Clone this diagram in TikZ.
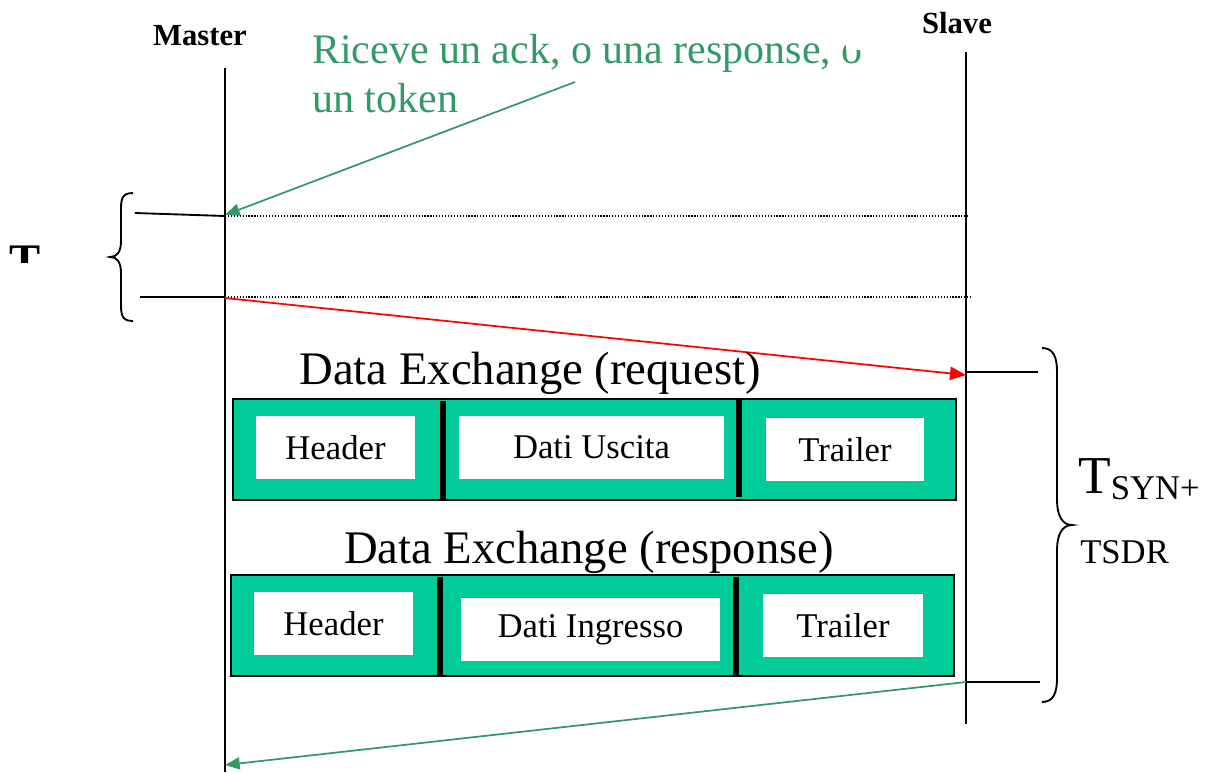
\documentclass[tikz,border=0pt]{standalone}
\usepackage{fontspec}
\setmainfont{Liberation Serif}
\usetikzlibrary{arrows.meta}
\definecolor{notegreen}{RGB}{51,153,102}
\definecolor{frameteal}{RGB}{0,204,153}
\begin{document}
\begin{tikzpicture}[x=0.75pt,y=-0.75pt,
  lifeline/.style={line width=1.4pt},
  tick/.style={line width=1.4pt},
  guide/.style={line width=0.9pt, dash pattern=on 0.9pt off 1.3pt},
  greenmsg/.style={draw=notegreen, line width=1.3pt, -{Triangle[length=11pt,width=9pt]}},
  redmsg/.style={draw=red, line width=1.3pt, -{Triangle[length=12pt,width=10pt]}},
  party/.style={font=\fontsize{23}{27}\selectfont\bfseries, anchor=base, inner sep=0},
  note/.style={font=\fontsize{31.5}{37}\selectfont, text=notegreen, anchor=base west, inner sep=0},
  frame/.style={draw=black, line width=1.5pt, fill=frameteal, inner sep=0},
  cell/.style={fill=white, inner sep=0, font=\fontsize{26}{30}\selectfont},
  divider/.style={line width=3.8pt},
  title/.style={font=\fontsize{35}{40}\selectfont, anchor=base, inner sep=0},
  brace/.style={line width=1.4pt},
  label/.style={anchor=base west, inner sep=0},
]
\useasboundingbox (0,0) rectangle (1212,772);

% participants
\node[party] (master) at (200,45) {Master};
\node[party] (slave) at (957,33) {Slave};

% lifelines
\coordinate (mtop) at (225,68);
\coordinate (mbot) at (225,772);
\coordinate (stop) at (966,52);
\coordinate (sbot) at (966,724);
\draw[lifeline] (mtop) -- (mbot);
\draw[lifeline] (stop) -- (sbot);

% event points on the lifelines
\coordinate (m1) at (225,215);
\coordinate (m2) at (225,298);
\coordinate (m3) at (225,765);
\coordinate (s1) at (966,375);
\coordinate (s1tick) at (966,372);
\coordinate (s2) at (966,682);

% green note (first line cut at the top of its last letter)
\begin{scope}
  \clip (300,0) -- (845,0) -- (845,50) -- (900,50) -- (900,140) -- (300,140) -- cycle;
  \node[note] (noteA) at (312,63) {Riceve un ack, o una response, o};
\end{scope}
\node[note] (noteB) at (312,112) {un token};
\coordinate (noteTail) at (575,82);
\draw[greenmsg] (noteTail) -- (m1);

% dotted guides
\draw[guide] (225,216) -- (968,216);
\draw[guide] (225,297) -- (972,297);

% left interval
\draw[tick] (135,213) -- (225,216);
\draw[tick] (140,297) -- (225,297);
\draw[brace] (133,193) .. controls (121,193) and (121,200) .. (121,212) -- (121,241)
  .. controls (121,252) and (117,257) .. (110,257)
  .. controls (117,257) and (121,262) .. (121,273) -- (121,302)
  .. controls (121,314) and (121,321) .. (133,321);
\begin{scope}
  \clip (0,240) rectangle (60,262);
  \node[label, font=\fontsize{35}{38}\selectfont\bfseries] (tleft) at (9,276) {T};
\end{scope}

% request
\draw[redmsg] (m2) -- (s1);
\node[title] (reqtitle) at (530,384) {Data Exchange (request)};
\node[frame, minimum width=723*0.75pt, minimum height=101*0.75pt] (req) at (594.5,449.5) {};
\draw[divider] (443,401) -- (443,499);
\draw[divider] (739,400) -- (739,497);
\node[cell, minimum width=159*0.75pt, minimum height=63*0.75pt] (reqH) at (335.5,447.5) {Header};
\node[cell, minimum width=265*0.75pt, minimum height=63*0.75pt] (reqD) at (591.5,447.5) {Dati Uscita};
\node[cell, minimum width=158*0.75pt, minimum height=63*0.75pt] (reqT) at (845,449.5) {Trailer};

% response
\node[title] (restitle) at (589,563) {Data Exchange (response)};
\node[frame, minimum width=723*0.75pt, minimum height=101*0.75pt] (res) at (592.5,625.5) {};
\draw[divider] (440,577) -- (440,675);
\draw[divider] (736,577) -- (736,675);
\node[cell, minimum width=159*0.75pt, minimum height=63*0.75pt] (resH) at (333.5,623.5) {Header};
\node[cell, minimum width=259*0.75pt, minimum height=63*0.75pt] (resD) at (590.5,629.5) {Dati Ingresso};
\node[cell, minimum width=160*0.75pt, minimum height=63*0.75pt] (resT) at (843,625.5) {Trailer};

% reply to master
\draw[greenmsg] (s2) -- (m3);

% right interval
\draw[tick] (s1tick) -- (1038,372);
\draw[tick] (s2) -- (1040,682);
\draw[brace] (1042,348) .. controls (1054,348) and (1057,358) .. (1057,372) -- (1057,500)
  .. controls (1057,515) and (1062,525) .. (1072,525)
  .. controls (1062,525) and (1057,535) .. (1057,550) -- (1057,678)
  .. controls (1057,692) and (1054,702) .. (1042,702);
\node[label, font=\fontsize{40}{44}\selectfont] (tsyn) at (1078,493) {T\raisebox{-5.2pt}{\fontsize{26}{30}\selectfont SYN+}};
\node[label, font=\fontsize{26}{30}\selectfont] (tsdr) at (1080,563) {TSDR};
\end{tikzpicture}
\end{document}
